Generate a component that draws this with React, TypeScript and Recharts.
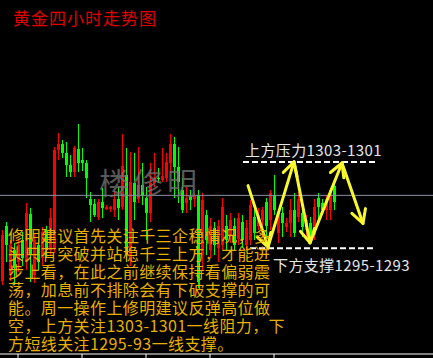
import { Bar, ComposedChart, ReferenceLine, XAxis, YAxis } from "recharts";

// 4-hour gold candles, oldest first
const OPEN = [
  1291.0, 1296.1, 1291.5, 1293.8, 1292.7, 1294.8, 1292.7, 1297.2, 1291.5, 1294.3,
  1293.1, 1295.7, 1293.8, 1294.0, 1303.1, 1303.7, 1302.8, 1301.7, 1301.1, 1303.2,
  1302.2, 1301.9, 1298.6, 1298.1, 1296.9, 1298.3, 1297.6, 1297.6, 1297.5, 1298.6,
  1297.8, 1300.8, 1293.1, 1300.0, 1298.6, 1299.9, 1298.7, 1297.3, 1300.0, 1300.5,
  1300.3, 1300.5, 1301.9, 1303.7, 1301.5, 1299.4, 1298.2, 1298.8, 1298.6, 1298.9,
  1293.4, 1297.1, 1293.8, 1295.9, 1294.0, 1294.3, 1296.1, 1295.2, 1296.1, 1294.9,
  1296.4, 1294.3, 1294.8, 1296.9, 1296.1, 1296.6, 1298.3, 1296.6, 1298.9, 1295.4,
  1297.3, 1296.0, 1296.3, 1297.5, 1296.9, 1297.3, 1295.7, 1296.3, 1295.2, 1298.7,
  1298.2, 1297.5, 1297.5, 1299.8,
];
const HIGH = [
  1295.7, 1296.4, 1294.8, 1294.5, 1294.9, 1295.5, 1298.2, 1297.7, 1295.4, 1294.8,
  1296.0, 1296.1, 1297.7, 1303.4, 1304.7, 1304.0, 1303.8, 1302.6, 1303.5, 1305.5,
  1303.3, 1302.2, 1299.2, 1298.6, 1298.6, 1299.6, 1298.0, 1297.9, 1299.3, 1299.7,
  1304.6, 1303.3, 1302.9, 1302.8, 1303.4, 1301.9, 1299.7, 1301.9, 1302.8, 1301.4,
  1303.3, 1302.8, 1304.6, 1304.3, 1303.4, 1300.5, 1299.7, 1299.4, 1299.1, 1299.4,
  1299.1, 1297.5, 1296.8, 1296.4, 1296.6, 1298.7, 1297.1, 1297.3, 1296.8, 1297.3,
  1297.1, 1296.6, 1298.5, 1297.5, 1297.7, 1297.8, 1298.7, 1299.4, 1300.8, 1297.5,
  1297.8, 1296.8, 1298.6, 1299.1, 1299.2, 1297.8, 1297.1, 1296.9, 1298.6, 1299.1,
  1298.6, 1298.9, 1299.6, 1300.0,
];
const LOW = [
  1290.6, 1292.7, 1291.0, 1290.6, 1291.8, 1292.4, 1292.0, 1290.9, 1290.8, 1292.0,
  1292.4, 1293.1, 1293.4, 1293.6, 1302.2, 1302.4, 1300.6, 1300.6, 1300.6, 1301.1,
  1301.2, 1298.7, 1296.4, 1296.9, 1296.6, 1296.8, 1297.5, 1297.4, 1296.9, 1296.6,
  1297.5, 1292.7, 1292.4, 1296.6, 1298.2, 1298.0, 1294.8, 1296.4, 1299.7, 1300.0,
  1300.1, 1300.1, 1301.0, 1298.7, 1298.2, 1297.3, 1297.3, 1297.5, 1297.8, 1290.3,
  1292.0, 1293.4, 1293.1, 1293.4, 1292.7, 1293.8, 1293.8, 1294.5, 1293.8, 1294.3,
  1294.0, 1293.8, 1294.3, 1294.8, 1295.7, 1295.0, 1294.5, 1295.7, 1297.1, 1294.5,
  1295.0, 1295.5, 1295.0, 1295.0, 1296.4, 1295.0, 1295.0, 1294.5, 1294.8, 1296.6,
  1297.1, 1296.6, 1296.6, 1297.5,
];
const CLOSE = [
  1295.2, 1294.3, 1294.3, 1292.2, 1294.3, 1293.1, 1297.3, 1293.4, 1294.8, 1292.7,
  1295.5, 1293.8, 1296.8, 1303.1, 1303.7, 1302.8, 1301.7, 1301.1, 1303.3, 1301.9,
  1301.9, 1300.5, 1298.0, 1297.1, 1298.3, 1297.7, 1297.8, 1297.8, 1298.6, 1297.7,
  1301.6, 1293.4, 1300.1, 1298.3, 1299.9, 1298.9, 1297.3, 1300.0, 1300.5, 1300.4,
  1300.7, 1302.0, 1303.7, 1301.5, 1300.1, 1297.5, 1298.7, 1298.5, 1298.8, 1290.9,
  1298.5, 1294.8, 1296.1, 1294.3, 1296.1, 1297.8, 1294.8, 1296.6, 1294.3, 1296.8,
  1294.8, 1295.9, 1298.0, 1295.4, 1297.1, 1297.5, 1296.1, 1299.1, 1297.5, 1297.3,
  1296.3, 1296.3, 1297.5, 1295.4, 1298.6, 1296.0, 1296.6, 1294.9, 1297.8, 1297.8,
  1297.5, 1298.6, 1299.4, 1298.3,
];

const CANDLES = OPEN.map((open, i) => ({
  i,
  open,
  high: HIGH[i],
  low: LOW[i],
  close: CLOSE[i],
}));

const LAST_PRICE = 1298.9;
const RESISTANCE = { price: 1302, from: 60.25, to: 93.25 };
const SUPPORT = { price: 1294, from: 62, to: 93.5 };
// expected swing path: bar index / price
const ZIGZAG = [
  { i: 61.5, p: 1299.8 },
  { i: 66.5, p: 1294.1 },
  { i: 73, p: 1302.0 },
  { i: 77, p: 1294.5 },
  { i: 85, p: 1301.9 },
  { i: 90.25, p: 1296.3 },
];
const TIME_TICKS = [4, 20, 36, 52, 68];

const TITLE = "黄金四小时走势图";
const WATERMARK = "楼修明";
const RESIST_LABEL = "上方压力1303-1301";
const SUPPORT_LABEL = "下方支撑1295-1293";
const NOTE_LINES = [
  "修明建议首先关注千三企稳情况，多",
  "头只有突破并站稳千三上方，才能进",
  "步上看，在此之前继续保持看偏弱震",
  "荡，加息前不排除会有下破支撑的可",
  "能。周一操作上修明建议反弹高位做",
  "空，上方关注1303-1301一线阻力，下",
  "方短线关注1295-93一线支撑。",
];

const W = 433;
const H = 358;
const CJK = '"Noto Sans CJK SC", sans-serif';

function Candle(props: any) {
  const { x, width, y, height, payload } = props;
  const { open, close, high, low } = payload;
  const k = height / (high - low || 1);
  const yOf = (v: number) => y + (high - v) * k;
  const cx = Math.round(x + width / 2);
  const color = close >= open ? "#ff0000" : "#00ff00";
  const top = yOf(Math.max(open, close));
  const bodyH = Math.max(1, Math.abs(yOf(open) - yOf(close)));
  return (
    <g shapeRendering="crispEdges">
      <rect x={cx} y={y} width={1} height={Math.max(1, height)} fill={color} />
      <rect x={cx - 1} y={top} width={3} height={bodyH} fill={color} />
    </g>
  );
}

function Arrow(props: any) {
  const { x1, y1, x2, y2 } = props;
  const a = Math.atan2(y2 - y1, x2 - x1);
  const wing = (d: number) =>
    `${x2 - 15 * Math.cos(a + d)},${y2 - 15 * Math.sin(a + d)}`;
  return (
    <g
      stroke="#f8f82c"
      strokeWidth={3}
      fill="none"
      strokeLinecap="round"
      strokeLinejoin="round"
    >
      <line x1={x1} y1={y1} x2={x2} y2={y2} />
      <polyline points={`${wing(0.5)} ${x2},${y2} ${wing(-0.5)}`} />
    </g>
  );
}

const labelStyle = {
  position: "absolute" as const,
  fontFamily: CJK,
  fontSize: 15,
  lineHeight: "17px",
  letterSpacing: 0.4,
  color: "#e6e6e6",
  whiteSpace: "pre" as const,
};

export default function App() {
  return (
    <div style={{ position: "relative", width: W, height: H, background: "#000" }}>
      <style>{"body{margin:0;background:#000}"}</style>
      <ComposedChart
        width={W}
        height={H}
        data={CANDLES}
        margin={{ top: 0, right: 0, bottom: 0, left: 0 }}
      >
        <XAxis
          type="number"
          dataKey="i"
          domain={[-0.5, 107.75]}
          ticks={TIME_TICKS}
          interval={0}
          height={4}
          tickSize={4}
          axisLine={{ stroke: "#fff" }}
          tickLine={{ stroke: "#fff" }}
          tick={() => <g />}
          allowDataOverflow
        />
        <YAxis hide domain={[1284.2, 1317]} allowDataOverflow />
        <ReferenceLine y={LAST_PRICE} stroke="#8a90a0" />
        <Bar
          dataKey={(d: any) => [d.low, d.high]}
          shape={Candle}
          barSize={4}
          isAnimationActive={false}
        />
        <ReferenceLine
          segment={[
            { x: RESISTANCE.from, y: RESISTANCE.price },
            { x: RESISTANCE.to, y: RESISTANCE.price },
          ]}
          stroke="#fff"
          strokeWidth={2}
          strokeDasharray="6 3"
          ifOverflow="visible"
        />
        <ReferenceLine
          segment={[
            { x: SUPPORT.from, y: SUPPORT.price },
            { x: SUPPORT.to, y: SUPPORT.price },
          ]}
          stroke="#fff"
          strokeWidth={2}
          strokeDasharray="6 3"
          ifOverflow="visible"
        />
        {ZIGZAG.slice(1).map((pt, k) => (
          <ReferenceLine
            key={k}
            segment={[
              { x: ZIGZAG[k].i, y: ZIGZAG[k].p },
              { x: pt.i, y: pt.p },
            ]}
            shape={Arrow}
            ifOverflow="visible"
          />
        ))}
      </ComposedChart>

      <div
        style={{
          position: "absolute",
          left: 13,
          top: 8,
          fontFamily: CJK,
          fontSize: 17,
          lineHeight: "19px",
          letterSpacing: 1,
          color: "#e00000",
          whiteSpace: "pre",
        }}
      >
        {TITLE}
      </div>
      <div
        style={{
          position: "absolute",
          left: 99,
          top: 164,
          fontFamily: CJK,
          fontSize: 30,
          lineHeight: "34px",
          letterSpacing: 4,
          color: "rgba(115,115,115,0.8)",
          whiteSpace: "pre",
        }}
      >
        {WATERMARK}
      </div>
      <div
        style={{
          position: "absolute",
          left: 8,
          top: 226,
          fontFamily: CJK,
          fontSize: 16,
          lineHeight: "18px",
          letterSpacing: 0.4,
          color: "#e8b000",
          whiteSpace: "pre",
        }}
      >
        {NOTE_LINES.map((line) => (
          <div key={line} style={{ height: 18 }}>
            {line}
          </div>
        ))}
      </div>
      <div style={{ ...labelStyle, left: 245, top: 141 }}>{RESIST_LABEL}</div>
      <div style={{ ...labelStyle, left: 273, top: 256 }}>{SUPPORT_LABEL}</div>
    </div>
  );
}
